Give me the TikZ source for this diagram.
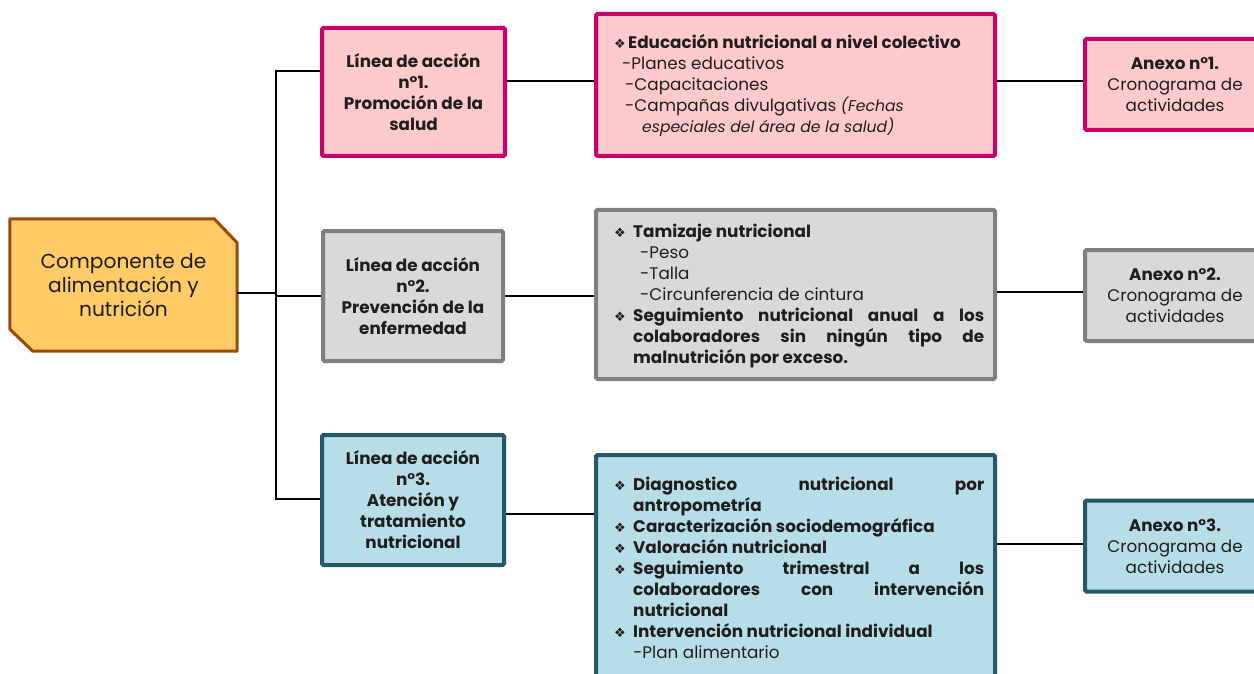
\documentclass[tikz,border=0pt]{standalone}
\usepackage{fontspec}
\setmainfont{Poppins}
\newfontfamily\symfont{DejaVu Sans}
\definecolor{pinkfill}{HTML}{FFCACC}
\definecolor{pinkdraw}{HTML}{C9006B}
\definecolor{greyfill}{HTML}{D9D9D9}
\definecolor{greydraw}{HTML}{808080}
\definecolor{bluefill}{HTML}{B7DEE8}
\definecolor{bluedraw}{HTML}{245A68}
\definecolor{orafill}{HTML}{FFCB66}
\definecolor{oradraw}{HTML}{9A4A08}
\definecolor{ink}{HTML}{1E1E1E}
\newcommand{\bul}{\makebox[19pt][l]{\raisebox{0pt}{\symfont\fontsize{13}{13}\selectfont ❖}}}
\begin{document}
\begin{tikzpicture}[x=1pt,y=-1pt,
  boxbase/.style={draw, line width=4pt, rounded corners=1.5pt, inner sep=0pt, text=ink},
  pinkbox/.style={boxbase, fill=pinkfill, draw=pinkdraw},
  greybox/.style={boxbase, fill=greyfill, draw=greydraw},
  bluebox/.style={boxbase, fill=bluefill, draw=bluedraw},
  linebox/.style={align=center, font=\fontsize{16.8}{21}\selectfont\bfseries},
  anexbox/.style={minimum width=180pt, minimum height=91pt, align=center, font=\fontsize{16.8}{21}\selectfont},
  contbox/.style={minimum width=399pt},
  bodytext/.style={inner sep=0pt, anchor=west, align=left, text=ink, font=\fontsize{16.8}{21}\selectfont},
  conn/.style={line width=1.6pt, black}]
\useasboundingbox (0,0) rectangle (1254,674);

% main component
\node[minimum width=227pt, minimum height=132pt, inner sep=0pt] (main) at (123.5,285) {};
\draw[line width=3pt, fill=orafill, draw=oradraw, line join=round]
  (main.north west) -- ([xshift=-23pt]main.north east) -- ([yshift=-24pt]main.north east)
  -- (main.south east) -- ([xshift=23pt]main.south west) -- ([yshift=22pt]main.south west) -- cycle;
\node[align=center, text=ink, font=\fontsize{20.2}{24}\selectfont] (maintext) at (main.center) {Componente de\\alimentación y\\nutrición};

% junction coordinates
\coordinate (jm) at (276,293);
\coordinate (t1) at (276,71);
\coordinate (t3) at (276,499);
\coordinate (r1) at (0,81);
\coordinate (r2) at (0,296);
\coordinate (r3) at (0,514);
\coordinate (q1) at (0,81);
\coordinate (q2) at (0,292);
\coordinate (q3) at (0,544);

% action lines
\node[pinkbox, linebox, minimum width=183pt, minimum height=128pt] (l1) at (413.5,92) {Línea de acción\\n°1.\\Promoción de la\\salud};
\node[greybox, linebox, minimum width=180pt, minimum height=130pt] (l2) at (413,296) {Línea de acción\\n°2.\\Prevención de la\\enfermedad};
\node[bluebox, linebox, minimum width=182pt, minimum height=130pt] (l3) at (413,500) {Línea de acción\\n°3.\\Atención y\\tratamiento\\nutricional};

% content boxes
\node[pinkbox, contbox, minimum height=142pt] (c1) at (795.5,85) {};
\node[greybox, contbox, minimum height=169pt] (c2) at (795.5,294.5) {};
\node[bluebox, contbox, minimum height=265pt] (c3) at (795.5,587.5) {};

\node[bodytext] (c1t) at (614,86) {\makebox[14pt][l]{\symfont\fontsize{13}{13}\selectfont ❖}\textbf{Educación nutricional a nivel colectivo}\\
\hspace*{8pt}-Planes educativos\\
\hspace*{11pt}-Capacitaciones\\
\hspace*{11pt}-Campañas divulgativas \textit{\fontsize{15.6}{21}\selectfont(Fechas}\\
\hspace*{28pt}\textit{\fontsize{15.6}{21}\selectfont especiales del área de la salud)}};

\node[bodytext] (c2t) at (614,296) {\bul\textbf{Tamizaje nutricional}\\
\hspace*{26pt}-Peso\\
\hspace*{26pt}-Talla\\
\hspace*{26pt}-Circunferencia de cintura\\
\bul\makebox[351pt][l]{\textbf{Seguimiento\hfill nutricional\hfill anual\hfill a\hfill los}}\\
\hspace*{19pt}\makebox[351pt][l]{\textbf{colaboradores\hfill sin\hfill ningún\hfill tipo\hfill de}}\\
\hspace*{19pt}\textbf{malnutrición por exceso.}};

\node[bodytext] (c3t) at (614,567.5) {\bul\makebox[351pt][l]{\textbf{Diagnostico\hfill nutricional\hfill por}}\\
\hspace*{19pt}\textbf{antropometría}\\
\bul\textbf{Caracterización sociodemográfica}\\
\bul\textbf{Valoración nutricional}\\
\bul\makebox[351pt][l]{\textbf{Seguimiento\hfill trimestral\hfill a\hfill los}}\\
\hspace*{19pt}\makebox[351pt][l]{\textbf{colaboradores\hfill con\hfill intervención}}\\
\hspace*{19pt}\textbf{nutricional}\\
\bul\textbf{Intervención nutricional individual}\\
\hspace*{19pt}-Plan alimentario};

% annex boxes
\node[pinkbox, anexbox] (a1) at (1175,84.5) {\textbf{Anexo n°1.}\\Cronograma de\\actividades};
\node[greybox, anexbox] (a2) at (1175,295.5) {\textbf{Anexo n°2.}\\Cronograma de\\actividades};
\node[bluebox, anexbox] (a3) at (1175,546) {\textbf{Anexo n°3.}\\Cronograma de\\actividades};

% connectors
\draw[conn] (main.east |- jm) -- (jm);
\draw[conn] (t1 -| l1.west) -- (t1) -- (t3) -- (t3 -| l3.west);
\draw[conn] (l2.west) -- (l2.west -| jm);
\draw[conn] (l1.east |- r1) -- (c1.west |- r1);
\draw[conn] (l2.east |- r2) -- (c2.west |- r2);
\draw[conn] (l3.east |- r3) -- (c3.west |- r3);
\draw[conn] (c1.east |- q1) -- (a1.west |- q1);
\draw[conn] (c2.east |- q2) -- (a2.west |- q2);
\draw[conn] (c3.east |- q3) -- (a3.west |- q3);
\end{tikzpicture}
\end{document}
